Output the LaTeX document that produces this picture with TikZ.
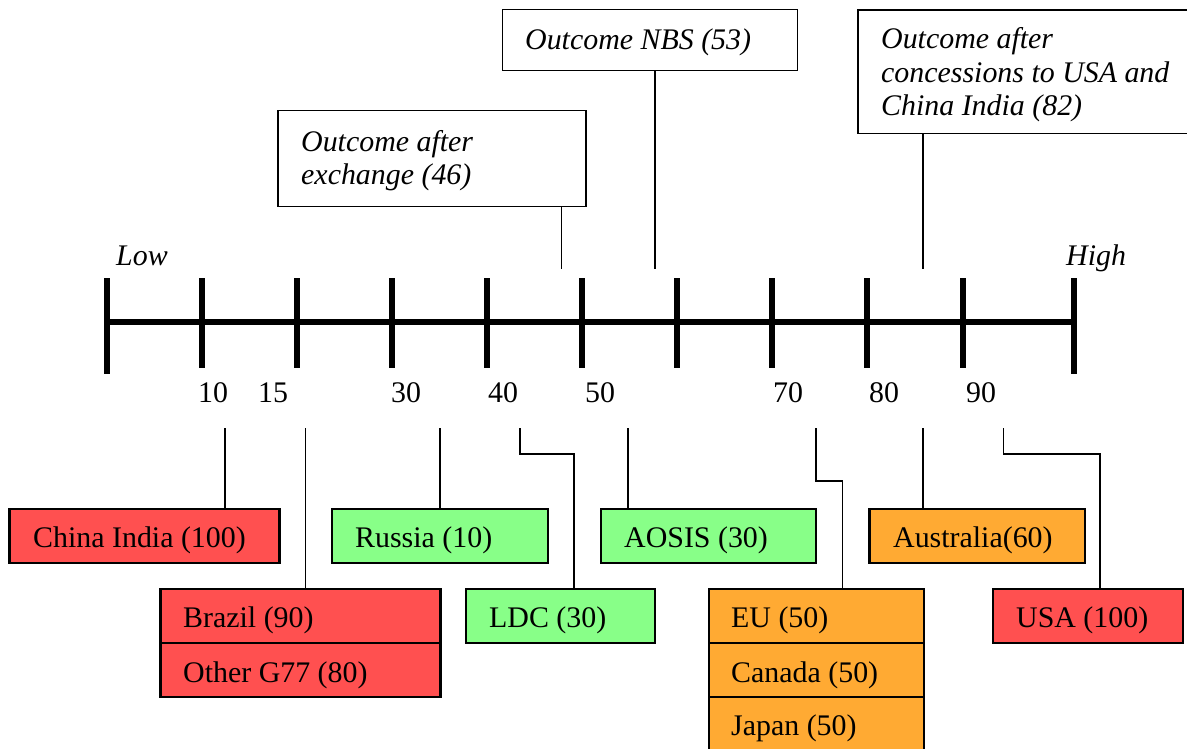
\documentclass[tikz,border=0pt]{standalone}
\usepackage{fontspec}
\setmainfont{Liberation Serif}
\definecolor{cred}{HTML}{FF5050}
\definecolor{cgreen}{HTML}{88FF88}
\definecolor{corange}{HTML}{FFAA33}
\begin{document}
\begin{tikzpicture}[x=1pt,y=-1pt,
  box/.style={draw=black, line width=2.3pt, anchor=north west, inner sep=0pt, outer sep=0pt},
  topbox/.style={draw=black, line width=1.8pt, anchor=north west, inner sep=0pt, outer sep=0pt, fill=white},
  lbl/.style={font=\fontsize{29.9}{34}\selectfont, anchor=base west, inner sep=0pt},
  ilbl/.style={font=\fontsize{29.9}{34}\selectfont\itshape, anchor=base west, inner sep=0pt},
  num/.style={font=\fontsize{29.9}{34}\selectfont, anchor=base, inner sep=0pt},
  axis/.style={line width=6.5pt, line cap=butt},
  conn/.style={line width=1.8pt},
]
\useasboundingbox (0,0) rectangle (1187,749);
\clip (0,0) rectangle (1187,749);
\fill[white] (0,0) rectangle (1187,749);

% axis
\coordinate (a0) at (107,322);
\coordinate (a1) at (1074,322);
\draw[axis] (a0) -- (a1);
\draw[axis] (107,278) -- (107,374);
\draw[axis] (1074,278) -- (1074,374);
\foreach \x in {202,297,392,487,582,677,772,867,963}
  \draw[axis] (\x,278) -- (\x,368);

\node[ilbl] (low) at (116,265) {Low};
\node[ilbl] (high) at (1066,265) {High};

\node[num] (n10) at (213,402) {10};
\node[num] (n15) at (273,402) {15};
\node[num] (n30) at (406,402) {30};
\node[num] (n40) at (503,402) {40};
\node[num] (n50) at (600,402) {50};
\node[num] (n70) at (788,402) {70};
\node[num] (n80) at (884,402) {80};
\node[num] (n90) at (981,402) {90};

% top boxes
\node[topbox, minimum width=308pt, minimum height=96pt] (exch) at (278,110.5) {};
\node[ilbl] (exchA) at (301,152) {Outcome after};
\node[ilbl] (exchB) at (301,185) {exchange (46)};
\coordinate (tExch) at (561.5,269);
\draw[conn] (exch.south -| tExch) -- (tExch);

\node[topbox, minimum width=295pt, minimum height=61pt] (nbs) at (502.5,9.5) {};
\node[ilbl] (nbsA) at (525,50) {Outcome NBS (53)};
\coordinate (tNbs) at (655,269);
\draw[conn] (nbs.south -| tNbs) -- (tNbs);

\node[topbox, minimum width=350pt, minimum height=123.5pt] (conc) at (858,10) {};
\node[ilbl] (concA) at (881,49) {Outcome after};
\node[ilbl] (concB) at (881,82.5) {concessions to USA and};
\node[ilbl] (concC) at (881,116) {China India (82)};
\coordinate (tConc) at (923,269);
\draw[conn] (conc.south -| tConc) -- (tConc);

% bottom boxes
\node[box, fill=cred, minimum width=270pt, minimum height=54pt] (ci) at (9.6,508.7) {};
\node[lbl] (ciT) at (33,547) {China India (100)};
\coordinate (cCi) at (225,428);
\draw[conn] (cCi) -- (cCi |- ci.north);

\node[box, fill=cgreen, minimum width=216pt, minimum height=54pt] (ru) at (332,508.7) {};
\node[lbl] (ruT) at (355,547) {Russia (10)};
\coordinate (cRu) at (440,428);
\draw[conn] (cRu) -- (cRu |- ru.north);

\node[box, fill=cgreen, minimum width=215pt, minimum height=54pt] (ao) at (601,508.7) {};
\node[lbl] (aoT) at (624,547) {AOSIS (30)};
\coordinate (cAo) at (628,428);
\draw[conn] (cAo) -- (cAo |- ao.north);

\node[box, fill=corange, minimum width=215.5pt, minimum height=54pt] (au) at (869.6,508.7) {};
\node[lbl] (auT) at (893,547) {Australia(60)};
\coordinate (cAu) at (923,428);
\draw[conn] (cAu) -- (cAu |- au.north);

\node[box, fill=cred, minimum width=280pt, minimum height=54pt] (br) at (160.5,589) {};
\node[box, fill=cred, minimum width=280pt, minimum height=54pt] (og) at (160.5,643) {};
\node[lbl] (brT) at (183,627) {Brazil (90)};
\node[lbl] (ogT) at (183,682) {Other G77 (80)};
\coordinate (cBr) at (305.5,428);
\draw[conn] (cBr) -- (cBr |- br.north);

\node[box, fill=cgreen, minimum width=189.5pt, minimum height=54pt] (ldc) at (465.7,589) {};
\node[lbl] (ldcT) at (489,627) {LDC (30)};
\coordinate (cLdc) at (520,428);
\coordinate (kLdc) at (574,454);
\draw[conn] (cLdc) |- (kLdc) -- (kLdc |- ldc.north);

\node[box, fill=corange, minimum width=215pt, minimum height=54pt] (eu) at (708.7,589) {};
\node[box, fill=corange, minimum width=215pt, minimum height=54pt] (ca) at (708.7,643) {};
\node[box, fill=corange, minimum width=215pt, minimum height=60pt] (jp) at (708.7,697) {};
\node[lbl] (euT) at (731,627) {EU (50)};
\node[lbl] (caT) at (731,682) {Canada (50)};
\node[lbl] (jpT) at (731,735) {Japan (50)};
\coordinate (cEu) at (816,428);
\coordinate (kEu) at (842.5,481);
\draw[conn] (cEu) |- (kEu) -- (kEu |- eu.north);

\node[box, fill=cred, minimum width=190pt, minimum height=54pt] (us) at (992.7,589) {};
\node[lbl] (usT) at (1016,627) {USA (100)};
\coordinate (cUs) at (1003.5,428);
\coordinate (kUs) at (1100,454);
\draw[conn] (cUs) |- (kUs) -- (kUs |- us.north);
\end{tikzpicture}
\end{document}
